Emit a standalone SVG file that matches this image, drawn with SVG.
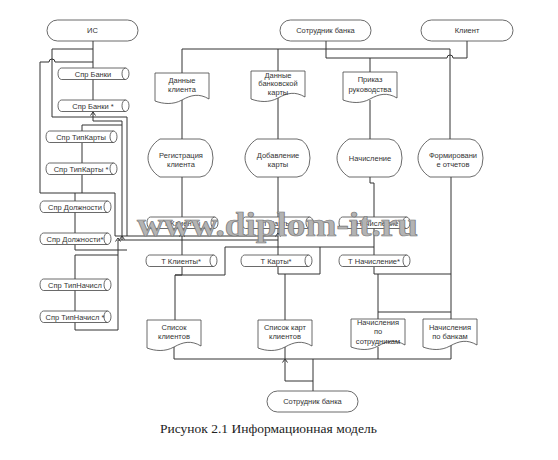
<svg xmlns="http://www.w3.org/2000/svg" xmlns:xlink="http://www.w3.org/1999/xlink" width="558" height="460" viewBox="0 0 558 460">
<style>
.ln{fill:none;stroke:#333;stroke-width:1}
.sh{fill:#fff;stroke:#444;stroke-width:0.8}
.t{font-family:"Liberation Sans",Arial,sans-serif;font-size:7.5px;fill:#333;text-anchor:middle}
.cap{font-family:"Liberation Serif","Times New Roman",serif;font-size:13.5px;fill:#222}
.wm{font-family:"Liberation Serif","Times New Roman",serif;font-weight:bold;font-size:34px;fill:#b3b3b3;stroke:#777;stroke-width:0.7}
</style>
<defs>
<g id="cyl" class="sh"><path d="M3.5,0 H67.5 A3.5,5.75 0 0 1 67.5,11.5 H3.5 A3.5,5.75 0 0 1 3.5,0 Z"/><path d="M67.5,0 A3.5,5.75 0 0 0 67.5,11.5" fill="none"/></g>
<path id="doc" class="sh" d="M0,0 H54 V26 C44,20 36,22 27,27 C18,32 8,31 0,28 Z"/>
<path id="proc" class="sh" d="M12,0 H52 A13,19 0 0 1 52,38 H12 C5,34 0,26 0,19 C0,12 5,4 12,0 Z"/>
<path id="arr" class="ln" d="M-2.5,3.5 L0,0 L2.5,3.5"/>
</defs>

<g id="connectors">
<path class="ln" d="M93,41 V68"/>
<path class="ln" d="M93,79 V100"/>
<path class="ln" d="M93,49 H52 V117 H127 V236"/>
<path class="ln" d="M93,111 V121 H122 V240"/>
<path class="ln" d="M40,62 H49 A3,3 0 0 1 55,62 H93"/>
<path class="ln" d="M40,62 V193 H115 V236"/>
<path class="ln" d="M82,125 H122"/>
<path class="ln" d="M82,125 V131"/>
<path class="ln" d="M82,143 V163"/>
<path class="ln" d="M82,175 V193"/>
<path class="ln" d="M75,193 V201"/>
<path class="ln" d="M75,212 V233"/>
<path class="ln" d="M75,244 V250 H127"/>
<path class="ln" d="M75,279 V255 H118 V240"/>
<path class="ln" d="M75,290 V311"/>
<path class="ln" d="M75,322 V330 H118 V255"/>
<path class="ln" d="M115,236 H278"/>
<path class="ln" d="M118,240 H278"/>
<use href="#arr" x="93" y="112"/>
<use href="#arr" x="182" y="233"/>
<use href="#arr" x="278" y="233"/>
<use href="#arr" x="118" y="238"/>
<use href="#arr" x="122" y="236"/>

<path class="ln" d="M326,41 V58 H447 A3,3 0 0 1 453,58 H467 V41"/>
<path class="ln" d="M370,58 V72"/>
<path class="ln" d="M182,73 V49 H450 V139"/>
<path class="ln" d="M278,49 V71"/>
<path class="ln" d="M182,100 V139"/>
<path class="ln" d="M278,98 V139"/>
<path class="ln" d="M370,100 V139"/>
<path class="ln" d="M182,177 V217"/>
<path class="ln" d="M278,177 V217"/>
<path class="ln" d="M370,177 V183 H374 V217"/>
<path class="ln" d="M451,177 V359"/>
<path class="ln" d="M182,228 V255"/>
<path class="ln" d="M278,228 V255"/>
<path class="ln" d="M374,228 V255"/>
<path class="ln" d="M182,267 V275 H175 V320"/>
<path class="ln" d="M175,275 H225 V247 H374"/>
<path class="ln" d="M320,247 V274"/>
<path class="ln" d="M278,267 V274 H320"/>
<path class="ln" d="M285,274 V320"/>
<path class="ln" d="M374,267 V274 H451"/>
<path class="ln" d="M378,274 V319"/>
<path class="ln" d="M378,312 H451"/>
<path class="ln" d="M174,347 V359 H451"/>
<path class="ln" d="M285,347 V359"/>
<path class="ln" d="M378,347 V359"/>
<path class="ln" d="M313,359 V391"/>
<path class="ln" d="M285,359 V381 H313"/>
<use href="#arr" x="285" y="359"/>
</g>

<g id="n-is"><rect class="sh" x="47" y="20" width="91" height="21" rx="10.5"/><text class="t" x="92.5" y="33">ИС</text></g>
<g id="n-sotr-top"><rect class="sh" x="280" y="20" width="91" height="21" rx="10.5"/><text class="t" x="325.5" y="33">Сотрудник банка</text></g>
<g id="n-klient"><rect class="sh" x="421" y="20" width="92" height="21" rx="10.5"/><text class="t" x="467" y="33">Клиент</text></g>

<g id="n-spr-banki"><use href="#cyl" x="58" y="68"/><text class="t" x="93" y="76.5">Спр Банки</text></g>
<g id="n-spr-banki2"><use href="#cyl" x="58" y="100"/><text class="t" x="93" y="108.5">Спр Банки *</text></g>
<g id="n-spr-tipkarty"><use href="#cyl" x="46" y="131"/><text class="t" x="81" y="139.5">Спр ТипКарты</text></g>
<g id="n-spr-tipkarty2"><use href="#cyl" x="46" y="163"/><text class="t" x="81" y="171.5">Спр ТипКарты *</text></g>
<g id="n-spr-dolzh"><use href="#cyl" x="40" y="201"/><text class="t" x="75" y="209.5">Спр Должности</text></g>
<g id="n-spr-dolzh2"><use href="#cyl" x="40" y="233"/><text class="t" x="75" y="241.5">Спр Должности*</text></g>
<g id="n-spr-tipnach"><use href="#cyl" x="40" y="279"/><text class="t" x="75" y="287.5">Спр ТипНачисл</text></g>
<g id="n-spr-tipnach2"><use href="#cyl" x="40" y="311"/><text class="t" x="75" y="319.5">Спр ТипНачисл *</text></g>

<g id="n-dannye-klienta"><use href="#doc" x="155" y="73"/><text class="t" x="182" y="82.5">Данные</text><text class="t" x="182" y="92">клиента</text></g>
<g id="n-dannye-karty"><use href="#doc" x="251" y="71"/><text class="t" x="278" y="77.5">Данные</text><text class="t" x="278" y="86">банковской</text><text class="t" x="278" y="95">карты</text></g>
<g id="n-prikaz"><use href="#doc" x="343" y="72"/><text class="t" x="370" y="81.5">Приказ</text><text class="t" x="370" y="91.5">руководства</text></g>

<g id="n-registr"><use href="#proc" x="148" y="139"/><text class="t" x="181" y="157.7">Регистрация</text><text class="t" x="181" y="166.7">клиента</text></g>
<g id="n-dobavl"><use href="#proc" x="245" y="139"/><text class="t" x="278" y="157.7">Добавление</text><text class="t" x="278" y="166.7">карты</text></g>
<g id="n-nachisl"><use href="#proc" x="337" y="139"/><text class="t" x="370" y="161">Начисление</text></g>
<g id="n-formir"><use href="#proc" x="418" y="139"/><text class="t" x="453" y="157.7">Формировани</text><text class="t" x="453" y="166.7">е отчетов</text></g>

<g id="n-t-klienty"><use href="#cyl" x="147" y="217"/><text class="t" x="182" y="225.5">Т Клиенты</text></g>
<g id="n-t-karty"><use href="#cyl" x="242" y="217"/><text class="t" x="277" y="225.5">Т Карты</text></g>
<g id="n-t-nachisl"><use href="#cyl" x="339" y="217"/><text class="t" x="374" y="225.5">Т Начисление</text></g>
<g id="n-t-klienty2"><use href="#cyl" x="146" y="255"/><text class="t" x="181" y="263.5">Т Клиенты*</text></g>
<g id="n-t-karty2"><use href="#cyl" x="241" y="255"/><text class="t" x="276" y="263.5">Т Карты*</text></g>
<g id="n-t-nachisl2"><use href="#cyl" x="339" y="255"/><text class="t" x="374" y="263.5">Т Начисление*</text></g>

<g id="n-spisok-klientov"><use href="#doc" x="147" y="320"/><text class="t" x="174" y="329.7">Список</text><text class="t" x="174" y="338.7">клиентов</text></g>
<g id="n-spisok-kart"><use href="#doc" x="258" y="320"/><text class="t" x="285" y="329.7">Список карт</text><text class="t" x="285" y="338.7">клиентов</text></g>
<g id="n-nach-sotr"><use href="#doc" x="351" y="319"/><text class="t" x="378" y="324.5">Начисления</text><text class="t" x="378" y="334">по</text><text class="t" x="378" y="343.5">сотрудникам</text></g>
<g id="n-nach-bank"><use href="#doc" x="423" y="319"/><text class="t" x="450" y="329.7">Начисления</text><text class="t" x="450" y="338.7">по банкам</text></g>

<g id="n-sotr-bottom"><rect class="sh" x="267" y="391" width="91" height="21" rx="10.5"/><text class="t" x="312.5" y="404">Сотрудник банка</text></g>

<text class="wm" x="137" y="236" textLength="281" lengthAdjust="spacingAndGlyphs">www.diplom-it.ru</text>
<text class="cap" x="160" y="433">Рисунок 2.1 Информационная модель</text>
</svg>
